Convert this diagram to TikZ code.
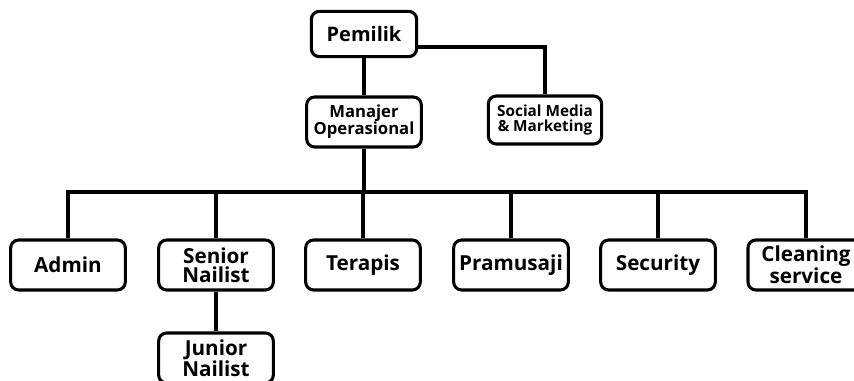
\documentclass[tikz,border=0pt]{standalone}
\usepackage{fontspec}
\setmainfont{Open Sans}
\begin{document}
\begin{tikzpicture}[x=0.75pt,y=-0.75pt,
   jabatan/.style={draw,line width=2.3pt,rounded corners=6pt,minimum width=86pt,
     minimum height=37.5pt,align=center,inner sep=1pt,
     font=\bfseries\fontsize{15.5}{14.5}\selectfont},
   garis/.style={line width=2.6pt}]
   \useasboundingbox (0,0) rectangle (854,381);

   \node[jabatan,minimum width=79pt,minimum height=34pt,font=\bfseries\fontsize{15}{15}\selectfont] (pemilik) at (364,34) {Pemilik};
   \node[jabatan,font=\bfseries\fontsize{12.5}{12.8}\selectfont] (manajer) at (364,122) {Manajer\\Operasional};
   \node[jabatan,minimum width=85pt,minimum height=36pt,font=\bfseries\fontsize{11.5}{11}\selectfont] (sosmed) at (545,120) {Social Media\\\& Marketing};

   \node[jabatan] (admin) at (68,265) {Admin};
   \node[jabatan] (senior) at (216,265) {Senior\\Nailist};
   \node[jabatan] (terapis) at (363,265) {Terapis};
   \node[jabatan] (pramusaji) at (511,265) {Pramusaji};
   \node[jabatan] (security) at (658,265) {Security};
   \node[jabatan,minimum width=87pt,font=\bfseries\fontsize{15.5}{13.5}\selectfont] (cleaning) at (806,265) {Cleaning\\service};
   \node[jabatan] (junior) at (216,358) {Junior\\Nailist};

   \coordinate (belok) at (545,47);
   \coordinate (bus) at (364,192);

   \draw[garis] (pemilik) -- (manajer);
   \draw[garis] (pemilik.east |- belok) -| (sosmed.north);
   \draw[garis] (manajer) -- (bus);
   \draw[garis] (admin.north) |- (bus) -| (cleaning.north);
   \foreach \n in {senior,terapis,pramusaji,security}
      \draw[garis] (\n.north) -- (\n.north |- bus);
   \draw[garis] (senior) -- (junior);

\end{tikzpicture}
\end{document}
